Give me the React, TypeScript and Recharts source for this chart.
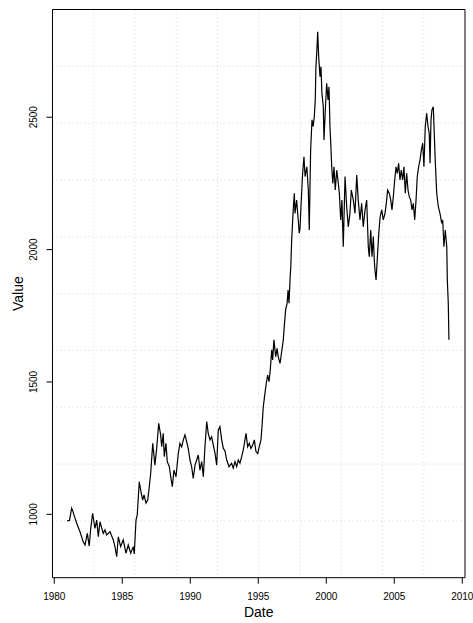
import { LineChart, Line, XAxis, YAxis, CartesianGrid, ReferenceArea } from 'recharts';

// decimal years
const years = [
    1980.95, 1981.12, 1981.28, 1981.38, 1981.45, 1981.65, 1981.89, 1982.13, 1982.26, 1982.43,
    1982.57, 1982.68, 1982.82, 1982.99, 1983.12, 1983.24, 1983.36, 1983.6, 1983.73, 1983.85,
    1984.1, 1984.34, 1984.46, 1984.59, 1984.71, 1984.88, 1985.07, 1985.27, 1985.44, 1985.62,
    1985.81, 1985.88, 1986.01, 1986.1, 1986.25, 1986.35, 1986.5, 1986.6, 1986.74, 1986.87,
    1986.96, 1987.09, 1987.24, 1987.4, 1987.53, 1987.68, 1987.82, 1987.9, 1988.01, 1988.09,
    1988.21, 1988.31, 1988.46, 1988.56, 1988.68, 1988.8, 1988.95, 1989.12, 1989.24, 1989.37,
    1989.49, 1989.61, 1989.74, 1989.85, 1989.98, 1990.1, 1990.22, 1990.35, 1990.47, 1990.59,
    1990.71, 1990.84, 1990.96, 1991.08, 1991.21, 1991.32, 1991.45, 1991.57, 1991.69, 1991.82,
    1991.94, 1992.06, 1992.18, 1992.31, 1992.43, 1992.55, 1992.68, 1992.85, 1993.04, 1993.16,
    1993.29, 1993.41, 1993.53, 1993.65, 1993.78, 1993.9, 1994.02, 1994.1, 1994.22, 1994.34,
    1994.46, 1994.59, 1994.71, 1994.83, 1994.96, 1995.07, 1995.2, 1995.29, 1995.37, 1995.49,
    1995.59, 1995.69, 1995.79, 1995.88, 1995.99, 1996.06, 1996.15, 1996.28, 1996.38, 1996.47,
    1996.6, 1996.72, 1996.84, 1996.91, 1997.01, 1997.12, 1997.19, 1997.26, 1997.34, 1997.39,
    1997.46, 1997.57, 1997.65, 1997.7, 1997.82, 1997.94, 1998.01, 1998.07, 1998.14, 1998.26,
    1998.36, 1998.44, 1998.57, 1998.68, 1998.75, 1998.85, 1998.95, 1999.04, 1999.12, 1999.19,
    1999.24, 1999.32, 1999.37, 1999.44, 1999.54, 1999.61, 1999.68, 1999.78, 1999.83, 1999.93,
    2000.03, 2000.13, 2000.2, 2000.27, 2000.33, 2000.4, 2000.48, 2000.57, 2000.66, 2000.77,
    2000.86, 2000.96, 2001.06, 2001.15, 2001.25, 2001.38, 2001.5, 2001.62, 2001.74, 2001.84,
    2001.99, 2002.11, 2002.24, 2002.35, 2002.48, 2002.6, 2002.72, 2002.85, 2002.97, 2003.09,
    2003.16, 2003.27, 2003.36, 2003.46, 2003.53, 2003.58, 2003.66, 2003.76, 2003.86, 2003.96,
    2004.08, 2004.19, 2004.32, 2004.44, 2004.51, 2004.63, 2004.74, 2004.83, 2004.93, 2005.03,
    2005.13, 2005.22, 2005.32, 2005.42, 2005.51, 2005.62, 2005.71, 2005.81, 2005.91, 2006.01,
    2006.1, 2006.21, 2006.3, 2006.4, 2006.5, 2006.6, 2006.69, 2006.79, 2006.89, 2006.99,
    2007.09, 2007.18, 2007.28, 2007.38, 2007.48, 2007.57, 2007.63, 2007.7, 2007.77, 2007.87,
    2007.94, 2008.01, 2008.12, 2008.24, 2008.36, 2008.49, 2008.56, 2008.65, 2008.75, 2008.86,
    2008.9, 2008.97, 2009.02,
];

const values = [
    975, 977, 1023, 1010, 997, 966, 934, 896, 884, 928,
    880, 947, 1004, 947, 978, 915, 972, 928, 941, 922,
    934, 903, 878, 840, 915, 878, 903, 853, 884, 853,
    878, 850, 978, 997, 1123, 1092, 1054, 1073, 1042, 1054,
    1092, 1155, 1268, 1186, 1249, 1344, 1300, 1255, 1306, 1218,
    1268, 1199, 1180, 1142, 1104, 1167, 1142, 1230, 1268, 1255,
    1281, 1300, 1274, 1249, 1205, 1180, 1136, 1186, 1205, 1224,
    1167, 1199, 1142, 1255, 1350, 1306, 1281, 1293, 1262, 1230,
    1186, 1318, 1331, 1281, 1249, 1240, 1205, 1180, 1193, 1174,
    1199, 1180, 1205, 1193, 1218, 1243, 1281, 1306, 1255, 1268,
    1249, 1262, 1281, 1237, 1230, 1255, 1281, 1344, 1407, 1457,
    1495, 1526, 1501, 1545, 1621, 1583, 1659, 1595, 1627, 1595,
    1570, 1614, 1659, 1709, 1772, 1797, 1847, 1797, 1892, 1935,
    2040, 2150, 2213, 2137, 2187, 2112, 2062, 2080, 2162, 2288,
    2351, 2276, 2313, 2225, 2074, 2376, 2490, 2465, 2502, 2565,
    2691, 2766, 2823, 2729, 2653, 2691, 2590, 2540, 2414, 2528,
    2628, 2565, 2615, 2465, 2402, 2313, 2250, 2313, 2225, 2300,
    2263, 2213, 2112, 2187, 2011, 2276, 2162, 2086, 2137, 2225,
    2187, 2137, 2282, 2187, 2112, 2175, 2086, 2150, 2187, 2011,
    1973, 2074, 1973, 2049, 1961, 1923, 1885, 1973, 2062, 2124,
    2150, 2112, 2137, 2187, 2225, 2213, 2187, 2150, 2200, 2263,
    2313, 2288, 2326, 2263, 2300, 2263, 2313, 2213, 2288, 2225,
    2200, 2187, 2150, 2175, 2112, 2187, 2276, 2313, 2338, 2376,
    2402, 2313, 2465, 2515, 2465, 2439, 2326, 2490, 2528, 2540,
    2439, 2338, 2213, 2162, 2137, 2099, 2112, 2011, 2074, 2011,
    1885, 1797, 1659,
];

const xTicks = [1980, 1985, 1990, 1995, 2000, 2005, 2010];
const yTicks = [1000, 1500, 2000, 2500];

const data = years.map((y, i) => ({ year: y, value: values[i] }));

const X_DOMAIN = [1979.87, 2010.2];
const Y_DOMAIN = [760.5, 2907];
const FONT = '"Liberation Sans", Arial, Helvetica, sans-serif';

// R style grid(): 10 equal cells, not tied to the ticks
const splitPoints = (start: number, size: number) =>
    [1, 2, 3, 4, 5, 6, 7, 8, 9].map(i => start + (size * i) / 10);

const YTick = (props: any) => {
    const { x, y, payload } = props;
    return (
        <text x={x} y={y} transform={`rotate(-90 ${x} ${y})`} textAnchor="middle"
            fontSize={10} fontFamily={FONT} fill="#000">
            {payload.value}
        </text>
    );
};

const XLabel = (props: any) => {
    const vb = props.viewBox || { x: 52.5, y: 577.7, width: 412.5, height: 45.3 };
    return (
        <text x={vb.x + vb.width / 2} y={vb.y + vb.height - 6} textAnchor="middle"
            fontSize={14} fontFamily={FONT} fill="#000">
            Date
        </text>
    );
};

const YLabel = (props: any) => {
    const vb = props.viewBox || { x: 0, y: 9.5, width: 52.5, height: 568.2 };
    const cx = vb.x + 23.5;
    const cy = vb.y + vb.height / 2;
    return (
        <text x={cx} y={cy} transform={`rotate(-90 ${cx} ${cy})`} textAnchor="middle"
            fontSize={14} fontFamily={FONT} fill="#000">
            Value
        </text>
    );
};

const App = () => (
    <div style={{ position: 'absolute', left: 0, top: 0, background: '#fff' }}>
        <LineChart width={473} height={623} data={data}
            margin={{ top: 9.5, right: 8, bottom: 0, left: 0 }}>
            <CartesianGrid
                stroke="#d3d3d3"
                strokeDasharray="1 3"
                verticalCoordinatesGenerator={({ offset }: any) => splitPoints(offset.left, offset.width)}
                horizontalCoordinatesGenerator={({ offset }: any) => splitPoints(offset.top, offset.height)}
            />
            <XAxis type="number" dataKey="year" domain={X_DOMAIN} ticks={xTicks} interval={0}
                allowDataOverflow axisLine={false} tickSize={6} tickMargin={9} height={45.3}
                tickLine={{ stroke: '#000' }}
                tick={{ fill: '#000', fontSize: 10, fontFamily: FONT }}
                label={<XLabel />} />
            <YAxis type="number" domain={Y_DOMAIN} ticks={yTicks} interval={0}
                allowDataOverflow axisLine={false} tickSize={6} tickMargin={9} width={52.5}
                tickLine={{ stroke: '#000' }}
                tick={<YTick />}
                label={<YLabel />} />
            <Line type="linear" dataKey="value" stroke="#000" strokeWidth={1.2}
                dot={false} isAnimationActive={false} />
            <ReferenceArea x1={X_DOMAIN[0]} x2={X_DOMAIN[1]} y1={Y_DOMAIN[0]} y2={Y_DOMAIN[1]}
                fill="none" fillOpacity={0} stroke="#000" strokeWidth={1} ifOverflow="visible" />
        </LineChart>
    </div>
);

export default App;
